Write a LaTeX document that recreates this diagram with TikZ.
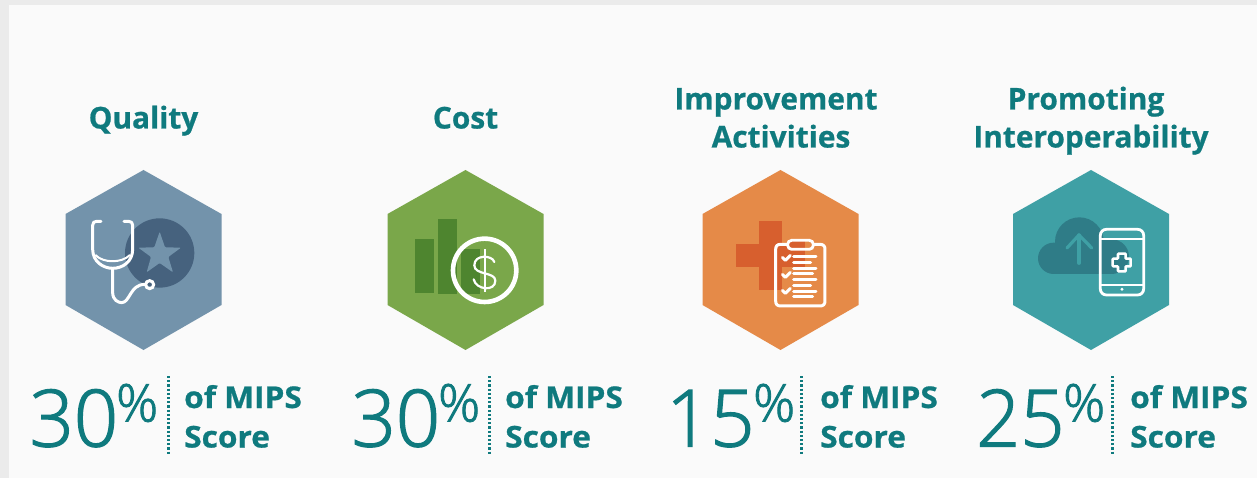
\documentclass[tikz,border=0pt]{standalone}
\usepackage{fontspec}
\setmainfont{Open Sans}
\newfontfamily\lightfont[FakeBold=1.6]{Open Sans Light}
\newfontfamily\heavyfont[FakeBold=0.7]{Open Sans Bold}
\usetikzlibrary{shapes.geometric}
\definecolor{pagegrey}{HTML}{EBEBEB}
\definecolor{panel}{HTML}{FAFAFA}
\definecolor{tealtext}{HTML}{0F7A7E}
\definecolor{hexblue}{HTML}{7393AB}
\definecolor{darkblue}{HTML}{46627E}
\definecolor{hexgreen}{HTML}{7AA74A}
\definecolor{darkgreen}{HTML}{4E852F}
\definecolor{hexorange}{HTML}{E58A48}
\definecolor{darkorange}{HTML}{D75F2E}
\definecolor{hexteal}{HTML}{3FA0A5}
\definecolor{darkteal}{HTML}{2F7C87}
\tikzset{
  titletext/.style={font=\heavyfont\fontsize{30}{38}\selectfont,text=tealtext,align=center,inner sep=0pt,anchor=base,xscale=0.995},
  bignum/.style={font=\lightfont\fontsize{79}{79}\selectfont,text=tealtext,inner sep=0pt,anchor=base west,xscale=0.98},
  pct/.style={font=\lightfont\fontsize{52}{52}\selectfont,text=tealtext,inner sep=0pt,anchor=base west},
  scoretext/.style={font=\heavyfont\fontsize{30}{40}\selectfont,text=tealtext,inner sep=0pt,anchor=base west,xscale=1.055},
  sep/.style={draw=tealtext,line width=2.6pt,dash pattern=on 2.2pt off 2pt},
  whiteline/.style={draw=white,line width=3pt,line cap=round,line join=round},
  icon/.style={x=0.3333pt,y=-0.3333pt}
}
\newcommand{\hexa}[2]{\fill[#2] (#1,170) -- (#1+78,214) -- (#1+78,305) -- (#1,350) -- (#1-78,305) -- (#1-78,214) -- cycle;}
\begin{document}
\begin{tikzpicture}[x=1pt,y=-1pt]
\useasboundingbox (0,0) rectangle (1257,478);
\fill[pagegrey] (0,0) rectangle (1257,478);
\fill[panel] (9,5) rectangle (1257,478);
% hexagons
\hexa{143.5}{hexblue}
\hexa{465.5}{hexgreen}
\hexa{780.5}{hexorange}
\hexa{1091}{hexteal}
% Quality icon
\begin{scope}[shift={(50,160)},icon]
\fill[darkblue] (329,279) circle (104);
\fill[hexblue,rounded corners=1pt] (329,215) -- (345,262) -- (393,263) -- (355,291) -- (369,337) -- (329,309) -- (290,337) -- (303,291) -- (265,263) -- (313,262) -- cycle;
\draw[whiteline] (153,184) -- (140,184) .. controls (132,184) and (128,188) .. (128,196) -- (128,268) .. controls (128,305) and (160,325) .. (188,325) .. controls (218,325) and (248,305) .. (248,268) -- (248,196) .. controls (248,188) and (244,184) .. (236,184) -- (222,184);
\draw[draw=white,line width=2pt] (136,285) .. controls (160,310) and (215,310) .. (240,285);
\draw[whiteline] (188,325) -- (188,398) .. controls (188,420) and (205,428) .. (215,428) .. controls (240,428) and (240,373) .. (285,373);
\draw[draw=white,line width=3pt] (299,374) circle (12);
\end{scope}
% Cost icon
\begin{scope}[shift={(375,160)},icon]
\fill[darkgreen] (120,237) rectangle (177,399);
\fill[darkgreen] (189,177) rectangle (246,402);
\fill[darkgreen] (258,267) rectangle (316,402);
\draw[draw=white,line width=4.6pt] (329,331) circle (95);
\draw[draw=white,line width=2.2pt] (329,268) -- (329,396);
\draw[draw=white,line width=2.2pt,line cap=round] (358,306) .. controls (352,285) and (298,282) .. (298,316) .. controls (298,346) and (361,335) .. (361,362) .. controls (361,396) and (303,390) .. (296,358);
\end{scope}
% Improvement icon
\begin{scope}[shift={(690,160)},icon]
\fill[darkorange] (207,182) rectangle (275,390);
\fill[darkorange] (138,252) rectangle (345,320);
\draw[whiteline] (257,268) .. controls (257,258) and (262,253) .. (272,253) -- (390,253) .. controls (400,253) and (405,258) .. (405,268) -- (405,423) .. controls (405,433) and (400,438) .. (390,438) -- (272,438) .. controls (262,438) and (257,433) .. (257,423) -- cycle;
\fill[darkorange] (293,241) rectangle (345,268);
\fill[hexorange] (345,241) rectangle (370,268);
\draw[draw=white,line width=2.8pt,rounded corners=4pt] (293,241) rectangle (370,268);
\foreach \ya/\xa in {290/378,307/362,325/378,342/368,359/378,377/362,394/378,411/368}
  \draw[whiteline] (311,\ya) -- (\xa,\ya);
\foreach \yc in {292,343,391}
  \draw[whiteline] (277,\yc) -- (286,\yc+9) -- (301,\yc-6);
\end{scope}
% Interoperability icon
\begin{scope}[shift={(1000,160)},icon]
\fill[darkteal] (161,295) circle (47);
\fill[darkteal] (238,245) circle (73);
\fill[darkteal] (335,290) circle (52);
\fill[darkteal] (300,238) rectangle (335,290);
\fill[darkteal] (161,270) rectangle (335,342);
\draw[draw=hexteal,line width=3.2pt,line cap=round,line join=round] (237,310) -- (237,225);
\draw[draw=hexteal,line width=3.2pt,line cap=round,line join=round] (201,264) -- (237,225) -- (275,264);
\draw[draw=white,line width=2.8pt,rounded corners=6pt] (301,208) rectangle (431,405);
\draw[draw=white,line width=2pt] (301,237) -- (431,237);
\draw[draw=white,line width=2pt] (301,375) -- (431,375);
\fill[white] (366,388) circle (5);
\draw[draw=white,line width=2.6pt,rounded corners=0.8pt] (354,281) -- (377,281) -- (377,296) -- (392,296) -- (392,319) -- (377,319) -- (377,334) -- (354,334) -- (354,319) -- (338,319) -- (338,296) -- (354,296) -- cycle;
\end{scope}
% titles
\node[titletext] (t1) at (143.5,128.5) {Quality};
\node[titletext] (t2) at (465.5,128.5) {Cost};
\node[titletext] (t3a) at (776,109.5) {Improvement};
\node[titletext] (t3b) at (781,147.5) {Activities};
\node[titletext] (t4a) at (1086,109.5) {Promoting};
\node[titletext] (t4b) at (1091,147.5) {Interoperability};
% scores
\foreach \id/\num/\xn/\xp/\xs/\xt in {a/30/29.5/116/168.5/184,b/30/351.5/438/489.5/505,c/15/666/753/801.3/820,d/25/976/1063/1112.7/1130}{
  \node[bignum] (n\id) at (\xn,446.5) {\num\kern-9pt};
  \node[pct] (p\id) at (\xp,421.5) {\%};
  \coordinate (s\id top) at (\xs,376);
  \coordinate (s\id bot) at (\xs,454);
  \draw[sep] (s\id top) -- (s\id bot);
  \node[scoretext] (m\id) at (\xt,408) {of MIPS};
  \node[scoretext] (r\id) at (\xt,447.5) {Score};
}
\end{tikzpicture}
\end{document}
